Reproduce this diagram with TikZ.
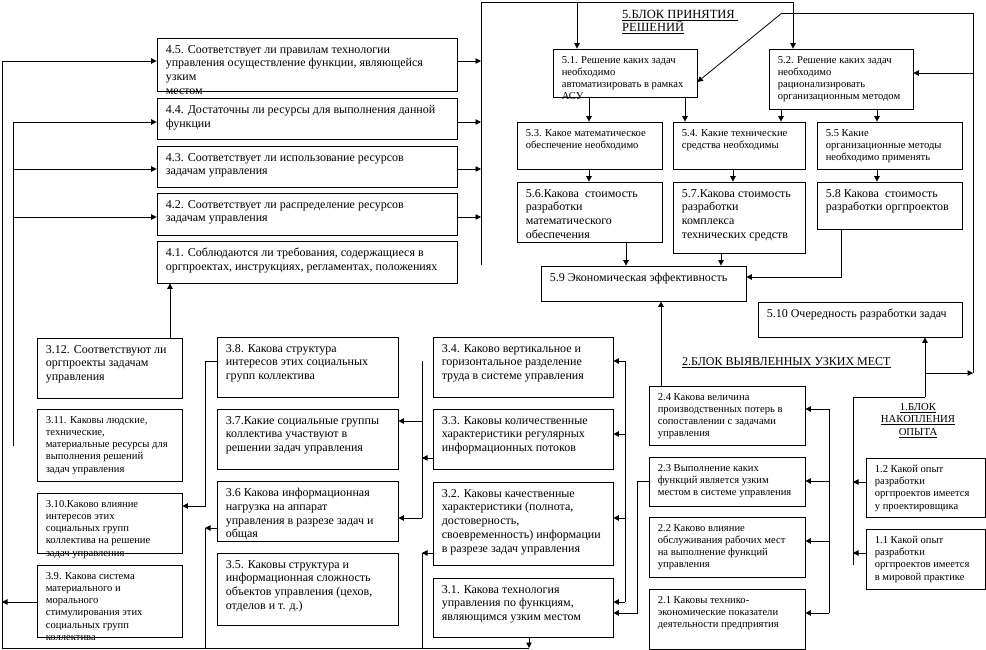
\documentclass[tikz,border=0pt]{standalone}
\usepackage{fontspec}
\setmainfont{Liberation Serif}
\usetikzlibrary{arrows.meta,fit}
\tikzset{
  box/.style={draw, line width=0.8pt, inner sep=0pt},
  tb/.style={anchor=north west, inner sep=0pt, align=left, font=\fontsize{12}{13.7}\selectfont},
  ts/.style={anchor=north west, inner sep=0pt, align=left, font=\fontsize{10.6}{12.2}\selectfont},
  hdr/.style={inner sep=0pt, font=\fontsize{12}{13}\selectfont},
  ln/.style={line width=0.8pt},
  arr/.style={line width=0.8pt, -{Triangle[length=5.5pt,width=5.5pt]}}
}
\newcommand\qbox[7]{%
  \node[box, fit={(#2,#3) (#4,#5)}] (#1) {};
  \node[#6] (#1t) at ([shift={(9pt,-7.5pt)}]#1.north west) {#7};
}
\begin{document}
\begin{tikzpicture}[x=1pt,y=-1pt]
\useasboundingbox (0,0) rectangle (986,650);
% block 4
\qbox{n45}{157}{38}{457}{91}{tb}{4.5. Соответствует ли правилам технологии\\управления осуществление функции, являющейся\\узким\\местом}
\qbox{n44}{157}{98}{457}{139}{tb}{4.4. Достаточны ли ресурсы для выполнения данной\\функции}
\qbox{n43}{157}{146}{457}{187}{tb}{4.3. Соответствует ли использование ресурсов\\задачам управления}
\qbox{n42}{157}{193}{457}{235}{tb}{4.2. Соответствует ли распределение ресурсов\\задачам управления}
\qbox{n41}{157}{241}{457}{283}{tb}{4.1. Соблюдаются ли требования, содержащиеся в\\оргпроектах, инструкциях, регламентах, положениях}
% block 5
\qbox{n51}{553}{49}{697}{97}{ts}{5.1. Решение каких задач\\необходимо\\автоматизировать в рамках\\АСУ}
\qbox{n52}{769}{49}{913}{109}{ts}{5.2. Решение каких задач\\необходимо\\рационализировать\\организационным методом}
\qbox{n53}{517}{122}{662}{169}{ts}{5.3. Какое математическое\\обеспечение необходимо}
\qbox{n54}{673}{122}{805}{169}{ts}{5.4. Какие технические\\средства необходимы}
\qbox{n55}{817}{122}{962}{169}{ts}{5.5 Какие\\организационные методы\\необходимо применять}
\qbox{n56}{517}{182}{662}{242}{tb}{5.6.Какова \ стоимость\\разработки\\математического\\обеспечения}
\qbox{n57}{673}{182}{805}{253}{tb}{5.7.Какова стоимость\\разработки\\комплекса\\технических средств}
\qbox{n58}{817}{182}{962}{229}{tb}{5.8 Какова \ стоимость\\разработки оргпроектов}
\qbox{n59}{541}{266}{746}{301}{tb}{5.9 Экономическая эффективность}
\qbox{n510}{758}{302}{962}{337}{tb}{5.10 Очередность разработки задач}
% block 3
\qbox{n312}{37}{338}{182}{398}{tb}{3.12. Соответствуют ли\\оргпроекты задачам\\управления}
\qbox{n311}{37}{409}{182}{481}{ts}{3.11. Каковы людские,\\технические,\\материальные ресурсы для\\выполнения решений\\задач управления}
\qbox{n310}{37}{493}{182}{553}{ts}{3.10.Каково влияние\\интересов этих\\социальных групп\\коллектива на решение\\задач управления}
\qbox{n39}{37}{565}{182}{637}{ts}{3.9. Какова система\\материального и\\морального\\стимулирования этих\\социальных групп\\коллектива}
\qbox{n38}{217}{337}{398}{397}{tb}{3.8. Какова структура\\интересов этих социальных\\групп коллектива}
\qbox{n37}{217}{409}{398}{469}{tb}{3.7.Какие социальные группы\\коллектива участвуют в\\решении задач управления}
\qbox{n36}{217}{481}{398}{541}{tb}{3.6 Какова информационная\\нагрузка на аппарат\\управления в разрезе задач и\\общая}
\qbox{n35}{217}{553}{398}{625}{tb}{3.5. Каковы структура и\\информационная сложность\\объектов управления (цехов,\\отделов и т. д.)}
\qbox{n34}{433}{337}{613}{397}{tb}{3.4. Каково вертикальное и\\горизонтальное разделение\\труда в системе управления}
\qbox{n33}{433}{409}{613}{469}{tb}{3.3. Каковы количественные\\характеристики регулярных\\информационных потоков}
\qbox{n32}{433}{482}{613}{565}{tb}{3.2. Каковы качественные\\характеристики (полнота,\\достоверность,\\своевременность) информации\\в разрезе задач управления}
\qbox{n31}{433}{578}{613}{637}{tb}{3.1. Какова технология\\управления по функциям,\\являющимся узким местом}
% block 2
\qbox{n24}{649}{386}{805}{445}{ts}{2.4 Какова величина\\производственных потерь в\\сопоставлении с задачами\\управления}
\qbox{n23}{649}{457}{805}{506}{ts}{2.3 Выполнение каких\\функций является узким\\местом в системе управления}
\qbox{n22}{649}{517}{805}{577}{ts}{2.2 Каково влияние\\обслуживания рабочих мест\\на выполнение функций\\управления}
\qbox{n21}{649}{589}{805}{649}{ts}{2.1 Каковы технико-\\экономические показатели\\деятельности предприятия}
% block 1
\qbox{n12}{866}{458}{985}{517}{ts}{1.2 Какой опыт\\разработки\\оргпроектов имеется\\у проектировщика}
\qbox{n11}{866}{529}{985}{589}{ts}{1.1 Какой опыт\\разработки\\оргпроектов имеется\\в мировой практике}
% headings
\node[hdr, anchor=north west, align=left, font=\fontsize{12.5}{13}\selectfont] (h5) at (622,10.5) {\underline{5.БЛОК ПРИНЯТИЯ }\\\underline{РЕШЕНИЙ}};
\node[hdr, anchor=north west] (h2) at (682,357) {\underline{2.БЛОК ВЫЯВЛЕННЫХ УЗКИХ МЕСТ}};
\node[hdr, anchor=north, align=center, font=\fontsize{10.7}{12.5}\selectfont] (h1) at (918,403) {\underline{1.БЛОК}\\\underline{НАКОПЛЕНИЯ}\\\underline{ОПЫТА}};
% block 4 -> block 5
\coordinate (b4t) at (481,2);
\coordinate (b4b) at (481,265);
\coordinate (tA) at (577,2);
\coordinate (tB) at (793,2);
\draw[ln] (b4b) -- (b4t) -- (tB);
\foreach \n/\y in {n45/61,n44/122,n43/169,n42/217} \draw[arr] (\n.east |- 0,\y) -- (b4t |- 0,\y);
\draw[arr] (tA) -- (tA |- n51.north);
\draw[arr] (tB) -- (tB |- n52.north);
% right loop
\coordinate (R1) at (782,13);
\coordinate (R2) at (973,13);
\coordinate (R3) at (973,373);
\draw[ln] (R3) -- (R2) -- (R1);
\draw[arr] (R1) -- (n51.east |- 0,82);
\draw[arr] (R2 |- 0,73) -- (n52.east |- 0,73);
% block 5 inside
\draw[arr] (n51.south -| 589,0) -- (n53.north -| 589,0);
\draw[arr] (n51.south -| 685,0) -- (n54.north -| 685,0);
\draw[arr] (n52.south -| 781,0) -- (n54.north -| 781,0);
\draw[arr] (n52.south -| 877,0) -- (n55.north -| 877,0);
\draw[arr] (n53.south -| 589,0) -- (n56.north -| 589,0);
\draw[arr] (n54.south -| 733,0) -- (n57.north -| 733,0);
\draw[arr] (n55.south -| 877,0) -- (n58.north -| 877,0);
\draw[arr] (n56.south -| 626,0) -- (n59.north -| 626,0);
\draw[arr] (n57.south -| 721,0) -- (n59.north -| 721,0);
\draw[arr] (n58.south -| 841,0) -- (841,277) -- (n59.east |- 0,277);
\draw[arr] (n24.north -| 661,0) -- (n59.south -| 661,0);
% block 1 -> 5.10
\coordinate (c1) at (853,565);
\coordinate (c2) at (853,397);
\coordinate (c3) at (925,397);
\coordinate (c4) at (925,373);
\draw[ln] (c1) -- (c2) -- (c3);
\draw[arr] (c3) -- (c3 |- n510.south);
\draw[arr] (c4) -- (R3);
\draw[arr] (n12.west |- 0,482) -- (c1 |- 0,482);
\draw[arr] (n11.west |- 0,553) -- (c1 |- 0,553);
% block 2 bus
\coordinate (d1) at (829,409);
\coordinate (d2) at (829,613);
\draw[ln] (d1) -- (d2);
\foreach \n/\y in {n24/409,n23/481,n22/541,n21/613} \draw[arr] (d1 |- 0,\y) -- (\n.east |- 0,\y);
\draw[arr] (n23.west |- 0,481) -- (637,481) -- (637,613) -- (n31.east |- 0,613);
% block 3 right bus
\coordinate (e1) at (625,361);
\coordinate (e2) at (625,602);
\draw[ln] (e1) -- (e2);
\foreach \n/\y in {n34/361,n33/434,n32/518,n31/602} \draw[arr] (e1 |- 0,\y) -- (\n.east |- 0,\y);
% middle bus x=422
\coordinate (f1) at (422,361);
\coordinate (f2) at (422,518);
\coordinate (f3) at (422,553);
\coordinate (B0) at (2,648);
\coordinate (B1) at (529,648);
\draw[ln] (f1) -- (f2);
\draw[arr] (f1 |- 0,421) -- (n37.east |- 0,421);
\draw[arr] (f2) -- (n36.east |- f2);
\draw[arr] (n33.west |- 0,458) -- (f1 |- 0,458);
\draw[arr] (n32.west |- f3) -- (f3);
\draw[ln] (f3) -- (f3 |- B0);
% 3.6 / 3.8 links
\coordinate (g1) at (205,528);
\draw[arr] (n36.west |- g1) -- (g1);
\draw[ln] (g1) -- (g1 |- B0);
\draw[arr] (n38.west |- 0,361) -- (205,361) -- (205,506) -- (n310.east |- 0,506);
% bottom and outer loop
\draw[arr] (n31.south -| B1) -- (B1);
\draw[arr] (B1) -- (B0) -- (2,61) -- (n45.west |- 0,61);
\draw[arr] (n39.west |- 0,602) -- (2,602);
% x=13 line
\draw[ln] (13,446) -- (13,122);
\foreach \n/\y in {n44/122,n43/169,n42/217} \draw[arr] (13,\y) -- (\n.west |- 0,\y);
% 3.12 -> 4.1
\draw[arr] (n312.north -| 170,0) -- (n41.south -| 170,0);
\end{tikzpicture}
\end{document}
